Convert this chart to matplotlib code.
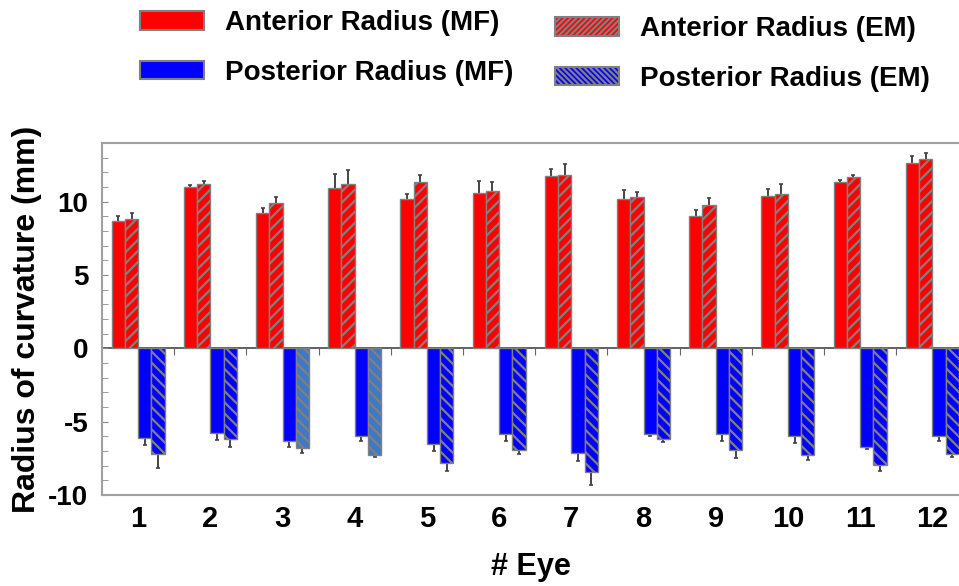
import numpy as np
import matplotlib
matplotlib.use("Agg")
import matplotlib.pyplot as plt
from matplotlib.patches import Patch
from matplotlib.ticker import MultipleLocator

plt.rcParams['font.family'] = ['Liberation Sans', 'DejaVu Sans']
plt.rcParams['font.weight'] = 'bold'
plt.rcParams['axes.labelweight'] = 'bold'
plt.rcParams['axes.unicode_minus'] = False
plt.rcParams['hatch.linewidth'] = 1.6

# data (mm)
eyes = ['1', '2', '3', '4', '5', '6', '7', '8', '9', '10', '11', '12']
ant_mf = [8.7, 11.0, 9.25, 10.9, 10.2, 10.6, 11.75, 10.15, 9.05, 10.4, 11.35, 12.65]
ant_mf_err = [0.3, 0.15, 0.3, 1.0, 0.35, 0.8, 0.45, 0.65, 0.4, 0.45, 0.1, 0.45]
ant_em = [8.8, 11.2, 9.9, 11.2, 11.35, 10.75, 11.85, 10.35, 9.8, 10.5, 11.65, 12.9]
ant_em_err = [0.4, 0.2, 0.4, 0.95, 0.5, 0.6, 0.7, 0.3, 0.45, 0.7, 0.2, 0.45]
post_mf = [-6.1, -5.8, -6.3, -6.0, -6.5, -5.85, -7.15, -5.85, -5.85, -6.0, -6.7, -6.0]
post_mf_err = [0.5, 0.45, 0.4, 0.35, 0.5, 0.5, 0.55, 0.1, 0.45, 0.45, 0.15, 0.3]
post_em = [-7.2, -6.2, -6.8, -7.3, -7.8, -6.9, -8.4, -6.15, -6.9, -7.3, -7.95, -7.2]
post_em_err = [0.95, 0.5, 0.35, 0.1, 0.55, 0.3, 0.9, 0.25, 0.55, 0.3, 0.4, 0.2]

red = '#ff0000'
blue = '#0000ff'
steel = '#3f78c4'
post_em_colors = [blue, blue, steel, steel, blue, blue, blue, blue, blue, blue, blue, blue]
edge = '#808080'

fig = plt.figure(figsize=(9.59, 5.86), dpi=100)
ax = fig.add_axes([0.1064, 0.1553, 0.8936, 0.6007])

x = np.arange(1, len(eyes) + 1)
w = 0.1835

series = [
    (ant_mf, ant_mf_err, red, '', -1.5),
    (ant_em, ant_em_err, red, '///', -0.5),
    (post_mf, post_mf_err, blue, '', 0.5),
    (post_em, post_em_err, post_em_colors, '\\\\\\', 1.5),
]
for vals, errs, col, hatch, off in series:
    ax.bar(x + off * w, vals, w, color=col, edgecolor=edge, linewidth=1.0,
           hatch=hatch, zorder=3)
    ax.errorbar(x + off * w, vals, yerr=errs, fmt='none', ecolor='#444444',
                elinewidth=1.4, capsize=1.5, capthick=1.2, zorder=2)

ax.set_xlim(0.5, 12.37)
ax.set_ylim(-10, 14)

ax.set_xticks(x)
ax.set_xticklabels(eyes)
ax.tick_params(axis='x', length=0, pad=7, labelsize=21)
ax.set_yticks([-10, -5, 0, 5, 10])
ax.yaxis.set_minor_locator(MultipleLocator(1))
ax.tick_params(axis='y', which='both', direction='in', length=4, color='#888888',
               labelsize=20, pad=10)

for s in ['left', 'top', 'bottom']:
    ax.spines[s].set_color('#a0a0a0')
    ax.spines[s].set_linewidth(1.5)
ax.spines['right'].set_visible(False)

# zero line with ticks between groups
ylo, yhi = ax.get_ylim()
zax = ax.secondary_xaxis((0 - ylo) / (yhi - ylo))
zax.set_xticks(x[:-1] + 0.5)
zax.tick_params(axis='x', direction='out', length=5, color='#666666', labelbottom=False)
zax.spines['bottom'].set_color('#555555')
zax.spines['bottom'].set_linewidth(1.3)

ax.set_xlabel('# Eye', fontsize=22, labelpad=14)
ax.set_ylabel('Radius of curvature (mm)', fontsize=23, labelpad=4)

h_ant_mf = Patch(facecolor=red, edgecolor=edge, linewidth=1.5)
h_post_mf = Patch(facecolor=blue, edgecolor=edge, linewidth=1.5)
h_ant_em = Patch(facecolor=red, edgecolor=edge, linewidth=1.5, hatch='//////')
h_post_em = Patch(facecolor=blue, edgecolor=edge, linewidth=1.5, hatch='\\\\\\\\\\\\')

leg_kw = dict(frameon=False, fontsize=20, handlelength=2.3, handleheight=0.65,
              handletextpad=0.75, labelspacing=0.85, borderpad=0, borderaxespad=0,
              loc='upper left')
leg1 = fig.legend([h_ant_mf, h_post_mf], ['Anterior Radius (MF)', 'Posterior Radius (MF)'],
                  bbox_to_anchor=(140 / 959, 1 - 10 / 586), **leg_kw)
leg2 = fig.legend([h_ant_em, h_post_em], ['Anterior Radius (EM)', 'Posterior Radius (EM)'],
                  bbox_to_anchor=(555 / 959, 1 - 16 / 586), **leg_kw)

fig.savefig('out.png', dpi=100)
